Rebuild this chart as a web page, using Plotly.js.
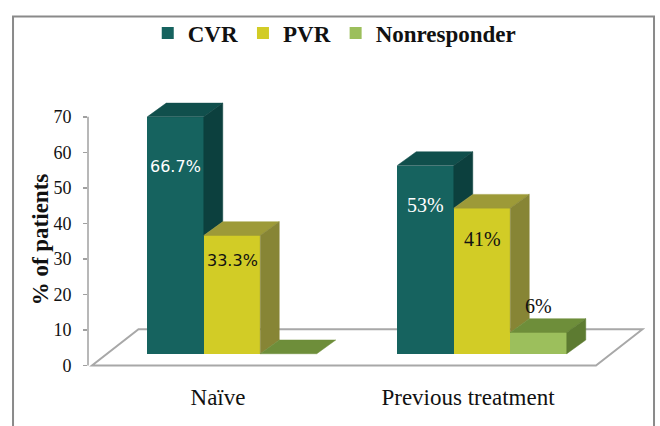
<!DOCTYPE html>
<html><head><meta charset="utf-8">
<script src="https://cdn.plot.ly/plotly-3.0.1.min.js"></script>
<style>html,body{margin:0;padding:0;background:#fff}#chart{width:660px;height:426px}</style>
</head><body><div id="chart"></div>
<script>
// ---- data ----
const categories = ['Naïve', 'Previous treatment'];
const seriesNames = ['CVR', 'PVR', 'Nonresponder'];
const cvrValues = [66.7, 53];
const pvrValues = [33.3, 41];
const nonresponderValues = [0, 6];
const cvrLabels = ['66.7%', '53%'];
const pvrLabels = ['33.3%', '41%'];
const nonresponderLabels = ['', '6%'];
const yTickValues = [0, 10, 20, 30, 40, 50, 60, 70];

// ---- style ----
const SERIF = 'Liberation Serif';
const seriesValues = [cvrValues, pvrValues, nonresponderValues];
const seriesLabels = [cvrLabels, pvrLabels, nonresponderLabels];
const frontColors = ['#16635f', '#d2cc26', '#9cbf5c'];
const topColors = ['#104f4c', '#9d9a38', '#6e8e3a'];
const sideColors = ['#0c403e', '#878535', '#5d7b31'];
const insideLabelColors = ['#ffffff', '#111111', '#111111'];
const labelFontByCategory = [{family: 'DejaVu Sans', size: 16}, {family: SERIF, size: 20}];

const W = 0.226, OX = 0.056, OY = 3.3, DX = 0.076, DY = 3.87;
const FLOOR = {x0: -0.504, x1: 1.512, dx: 0.186, dy: 10.2};

const traces = [];
seriesValues.forEach((vals, k) => {
  traces.push({
    type: 'bar', name: seriesNames[k],
    x: categories.map((c, i) => i + OX + (k - 1) * W),
    y: vals, base: OY, width: W,
    marker: {color: frontColors[k], line: {width: 0}},
    hoverinfo: 'skip'
  });
});
seriesValues.forEach((vals, k) => {
  vals.forEach((v, i) => {
    const xl = i + OX + (k - 1) * W - W / 2, xr = xl + W;
    const top = OY + v;
    traces.push({
      type: 'scatter', mode: 'lines', showlegend: false, hoverinfo: 'skip',
      x: [xl, xr, xr + DX, xl + DX, xl], y: [top, top, top + DY, top + DY, top],
      fill: 'toself', fillcolor: topColors[k], line: {width: 0.5, color: topColors[k]}
    });
    const nextTop = k < seriesValues.length - 1 ? OY + seriesValues[k + 1][i] : OY;
    const low = Math.max(OY, nextTop);
    if (top > low) {
      traces.push({
        type: 'scatter', mode: 'lines', showlegend: false, hoverinfo: 'skip',
        x: [xr, xr, xr + DX, xr + DX, xr], y: [low, top, top + DY, low + DY, low],
        fill: 'toself', fillcolor: sideColors[k], line: {width: 0.5, color: sideColors[k]}
      });
    }
  });
});

const annotations = [];
seriesValues.forEach((vals, k) => {
  vals.forEach((v, i) => {
    const txt = seriesLabels[k][i];
    if (!txt) return;
    const inside = v >= 20;
    annotations.push({
      x: i + OX + (k - 1) * W, xref: 'x', yref: 'y',
      y: inside ? OY + 0.79 * v : OY + v + DY,
      yanchor: inside ? 'middle' : 'bottom', xanchor: 'center',
      text: txt, showarrow: false,
      font: {family: labelFontByCategory[i].family, size: labelFontByCategory[i].size,
             color: inside ? insideLabelColors[k] : '#111111'}
    });
  });
});
annotations.push({
  text: '% of patients', textangle: -90, showarrow: false,
  xref: 'paper', yref: 'paper', x: -0.0862, y: 0.468, xanchor: 'center', yanchor: 'middle',
  font: {family: SERIF, size: 23, color: '#111111', weight: 'bold'}
});

const shapes = [
  {type: 'path', xref: 'x', yref: 'y', layer: 'below',
   path: `M${FLOOR.x0},0 L${FLOOR.x1},0 L${FLOOR.x1 + FLOOR.dx},${FLOOR.dy} L${FLOOR.x0 + FLOOR.dx},${FLOOR.dy} Z`,
   fillcolor: '#ffffff', line: {color: '#a8a8a8', width: 2}},
  {type: 'line', xref: 'paper', yref: 'y', x0: 0, x1: 0, y0: 0, y1: 70,
   line: {color: '#a0a0a0', width: 1.5}},
  {type: 'rect', xref: 'paper', yref: 'paper', x0: -0.1346, x1: 1.0162, y0: -0.4, y1: 1.273,
   line: {color: '#8a8a8a', width: 2}, fillcolor: 'rgba(0,0,0,0)'}
];

const layout = {
  width: 660, height: 426,
  margin: {l: 88, r: 15, t: 87, b: 57},
  paper_bgcolor: '#ffffff', plot_bgcolor: 'rgba(0,0,0,0)',
  font: {family: SERIF},
  barmode: 'overlay', bargap: 0,
  showlegend: true,
  legend: {orientation: 'h', x: 0.443, xanchor: 'center', y: 1.213, yanchor: 'middle',
           bgcolor: 'rgba(0,0,0,0)',
           font: {family: SERIF, size: 23, color: '#111111', weight: 'bold'},
           itemclick: false, itemdoubleclick: false},
  xaxis: {range: [-0.52, 1.708], tickvals: [0, 1], ticktext: categories,
          showgrid: false, zeroline: false, showline: false, ticks: '',
          ticklabelstandoff: 12,
          tickfont: {family: SERIF, size: 23, color: '#111111'}},
  yaxis: {range: [-1, 77], tickvals: yTickValues, showgrid: false, zeroline: false, showline: false,
          ticks: 'outside', ticklen: 4, tickcolor: '#a0a0a0', tickwidth: 1.5,
          ticklabelstandoff: 8,
          tickfont: {family: SERIF, size: 18, color: '#111111'}},
  annotations: annotations,
  shapes: shapes
};

Plotly.newPlot('chart', traces, layout, {displayModeBar: false, staticPlot: true});
</script>
</body></html>
